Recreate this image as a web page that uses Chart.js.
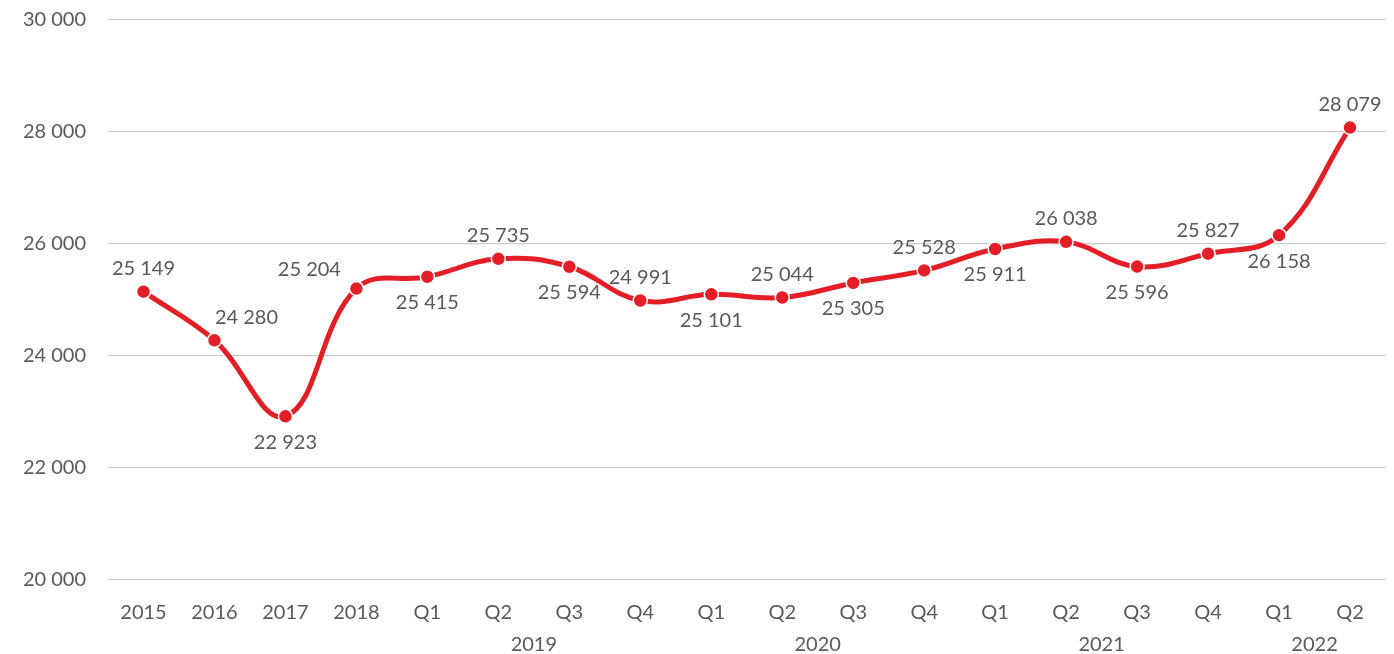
<!DOCTYPE html>
<html>
<head>
<meta charset="utf-8">
<script src="https://cdn.jsdelivr.net/npm/chart.js@4/dist/chart.umd.min.js"></script>
<style>
  html, body { margin: 0; padding: 0; background: #fff; }
  #wrap { width: 1394px; height: 654px; position: relative; }
</style>
</head>
<body>
<div id="wrap"><canvas id="chart"></canvas></div>
<script>
// categories and values
const periodLabels = ['2015', '2016', '2017', '2018', 'Q1', 'Q2', 'Q3', 'Q4', 'Q1', 'Q2', 'Q3', 'Q4', 'Q1', 'Q2', 'Q3', 'Q4', 'Q1', 'Q2'];
const values = [25149, 24280, 22923, 25204, 25415, 25735, 25594, 24991, 25101, 25044, 25305, 25528, 25911, 26038, 25596, 25827, 26158, 28079];
const yearGroups = ['2019', '2020', '2021', '2022'];
const yearGroupStart = [4, 8, 12, 16];
const yearGroupEnd = [7, 11, 15, 17];
const yTicks = [20000, 22000, 24000, 26000, 28000, 30000];

// where each value label goes relative to its point
const labelPlacement = ['above', 'aboveRight', 'below', 'aboveLeft', 'below', 'above', 'below', 'above', 'below', 'above', 'below', 'above', 'below', 'above', 'below', 'above', 'below', 'above'];

const RED = '#e41e26';
const TEXT = '#595959';
const FONT = 'Lato, "Open Sans", sans-serif';
const FSIZE = 20;

function fmt(n) {
    return String(n).replace(/\B(?=(\d{3})+(?!\d))/g, ' ');
}

const valueLabels = {
    id: 'valueLabels',
    afterDatasetsDraw(chart) {
        const ctx = chart.ctx;
        const meta = chart.getDatasetMeta(0);
        ctx.save();
        ctx.font = FSIZE + 'px ' + FONT;
        ctx.fillStyle = TEXT;
        ctx.textAlign = 'center';
        ctx.textBaseline = 'middle';
        meta.data.forEach((pt, i) => {
            let dx = 0, dy = -23;
            const p = labelPlacement[i];
            if (p === 'below') dy = 26;
            if (p === 'aboveRight') { dx = 32; dy = -23; }
            if (p === 'aboveLeft') { dx = -47; dy = -19; }
            ctx.fillText(fmt(values[i]), pt.x + dx, pt.y + dy);
        });
        ctx.restore();
    }
};

const yearLabels = {
    id: 'yearLabels',
    afterDraw(chart) {
        const ctx = chart.ctx;
        const x = chart.scales.x;
        ctx.save();
        ctx.font = FSIZE + 'px ' + FONT;
        ctx.fillStyle = TEXT;
        ctx.textAlign = 'center';
        ctx.textBaseline = 'middle';
        yearGroups.forEach((y, i) => {
            const cx = (x.getPixelForValue(yearGroupStart[i]) + x.getPixelForValue(yearGroupEnd[i])) / 2;
            ctx.fillText(y, cx, chart.chartArea.bottom + 65);
        });
        ctx.restore();
    }
};

new Chart(document.getElementById('chart'), {
    type: 'line',
    data: {
        labels: periodLabels,
        datasets: [{
            data: values,
            borderColor: RED,
            backgroundColor: RED,
            borderWidth: 5,
            tension: 0.4,
            pointRadius: 7,
            pointBackgroundColor: RED,
            pointBorderColor: '#fff',
            pointBorderWidth: 1.5,
            clip: false
        }]
    },
    options: {
        responsive: true,
        maintainAspectRatio: false,
        animation: false,
        layout: { padding: { top: 20, right: 6, bottom: 0, left: 0 } },
        plugins: {
            legend: { display: false },
            tooltip: { enabled: false }
        },
        scales: {
            x: {
                offset: true,
                grid: { display: false, drawTicks: false },
                border: { display: false },
                ticks: {
                    color: TEXT,
                    font: { family: FONT, size: FSIZE },
                    padding: 21,
                    maxRotation: 0,
                    autoSkip: false
                },
                afterFit(scale) { scale.height = 74; scale.paddingLeft = 0; scale.paddingRight = 0; }
            },
            y: {
                min: 20000,
                max: 30000,
                grid: { color: '#cccccc', lineWidth: 1.2, drawTicks: false },
                border: { display: false },
                afterBuildTicks(scale) { scale.ticks = yTicks.map(v => ({ value: v })); },
                ticks: {
                    color: TEXT,
                    font: { family: FONT, size: FSIZE },
                    padding: 22,
                    callback: v => fmt(v)
                },
                afterFit(scale) { scale.width = 108; scale.paddingTop = 0; scale.paddingBottom = 0; }
            }
        }
    },
    plugins: [valueLabels, yearLabels]
});
</script>
</body>
</html>
